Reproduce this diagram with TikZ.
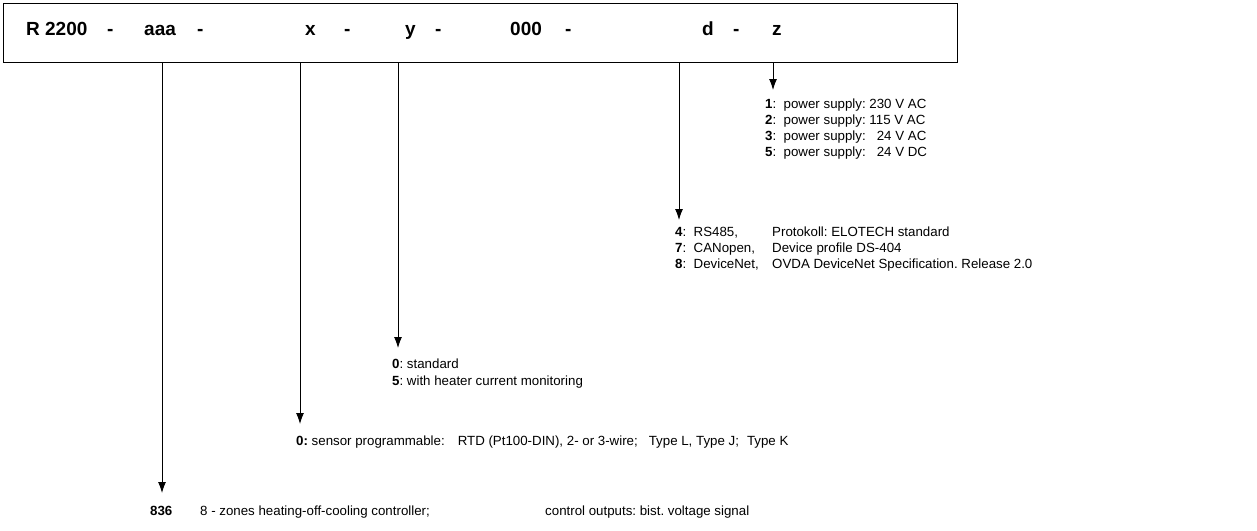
\documentclass[tikz,border=0pt]{standalone}
\usepackage{fontspec}
\setmainfont{Liberation Sans}
\usetikzlibrary{arrows.meta}
\tikzset{
  lbl/.style={anchor=base west, inner sep=0pt, font=\fontsize{13.3}{16}\selectfont},
  lblb/.style={anchor=base west, inner sep=0pt, font=\fontsize{13.3}{16}\selectfont\bfseries},
  code/.style={anchor=base west, inner sep=0pt, font=\fontsize{19}{21}\selectfont\bfseries},
  arr/.style={line width=0.9pt, -{Latex[length=11pt,width=8pt]}},
  frame/.style={draw, line width=1.4pt}
}
\begin{document}
\frenchspacing
\begin{tikzpicture}[x=1pt,y=-1pt]
\useasboundingbox (0,0) rectangle (1257,530);
% box
\node[frame, minimum width=954pt, minimum height=59pt, anchor=north west, inner sep=0pt] (box) at (3,3) {};
\node[code] (c1) at (26,35) {R 2200};
\node[code] (c1d) at (107,35) {-};
\node[code] (c2) at (144,35) {aaa};
\node[code] (c2d) at (197,35) {-};
\node[code] (c3) at (305,35) {x};
\node[code] (c3d) at (344,35) {-};
\node[code] (c4) at (405,35) {y};
\node[code] (c4d) at (435,35) {-};
\node[code] (c5) at (510,35) {000};
\node[code] (c5d) at (565,35) {-};
\node[code] (c6) at (702,35) {d};
\node[code] (c6d) at (733,35) {-};
\node[code] (c7) at (772,35) {z};
% arrow tips
\coordinate (tz) at (773,90);
\coordinate (td) at (679,220);
\coordinate (ty) at (398,348);
\coordinate (tx) at (300,424);
\coordinate (ta) at (162,493);
\draw[arr] (box.south -| tz) -- (tz);
\draw[arr] (box.south -| td) -- (td);
\draw[arr] (box.south -| ty) -- (ty);
\draw[arr] (box.south -| tx) -- (tx);
\draw[arr] (box.south -| ta) -- (ta);
% z options
\node[lbl] (z1) at (765,108) {\textbf{1}:\ \ power supply: 230 V AC};
\node[lbl] (z2) at (765,124) {\textbf{2}:\ \ power supply: 115 V AC};
\node[lbl] (z3) at (765,140) {\textbf{3}:\ \ power supply: \hphantom{0}24 V AC};
\node[lbl] (z5) at (765,156) {\textbf{5}:\ \ power supply: \hphantom{0}24 V DC};
% d options
\node[lbl] (d4) at (675,236) {\textbf{4}:\ \ RS485,};
\node[lbl] (d7) at (675,252) {\textbf{7}:\ \ CANopen,};
\node[lbl] (d8) at (675,268) {\textbf{8}:\ \ DeviceNet,};
\node[lbl] (d4b) at (772,236) {Protokoll: ELOTECH standard};
\node[lbl] (d7b) at (772,252) {Device profile DS-404};
\node[lbl] (d8b) at (772,268) {OVDA DeviceNet Specification. Release 2.0};
% y options
\node[lbl] (y0) at (392,368) {\textbf{0}: standard};
\node[lbl] (y5) at (392,385) {\textbf{5}: with heater current monitoring};
% x options
\node[lbl] (x0) at (296,445) {\textbf{0:} sensor programmable:\hspace{13pt}RTD (Pt100-DIN), 2- or 3-wire;\hspace{11pt}Type L, Type J;\hspace{8pt}Type K};
% aaa
\node[lblb] (a1) at (150,515) {836};
\node[lbl] (a2) at (200,515) {8 - zones heating-off-cooling controller;};
\node[lbl] (a3) at (545,515) {control outputs: bist. voltage signal};
\end{tikzpicture}
\end{document}
